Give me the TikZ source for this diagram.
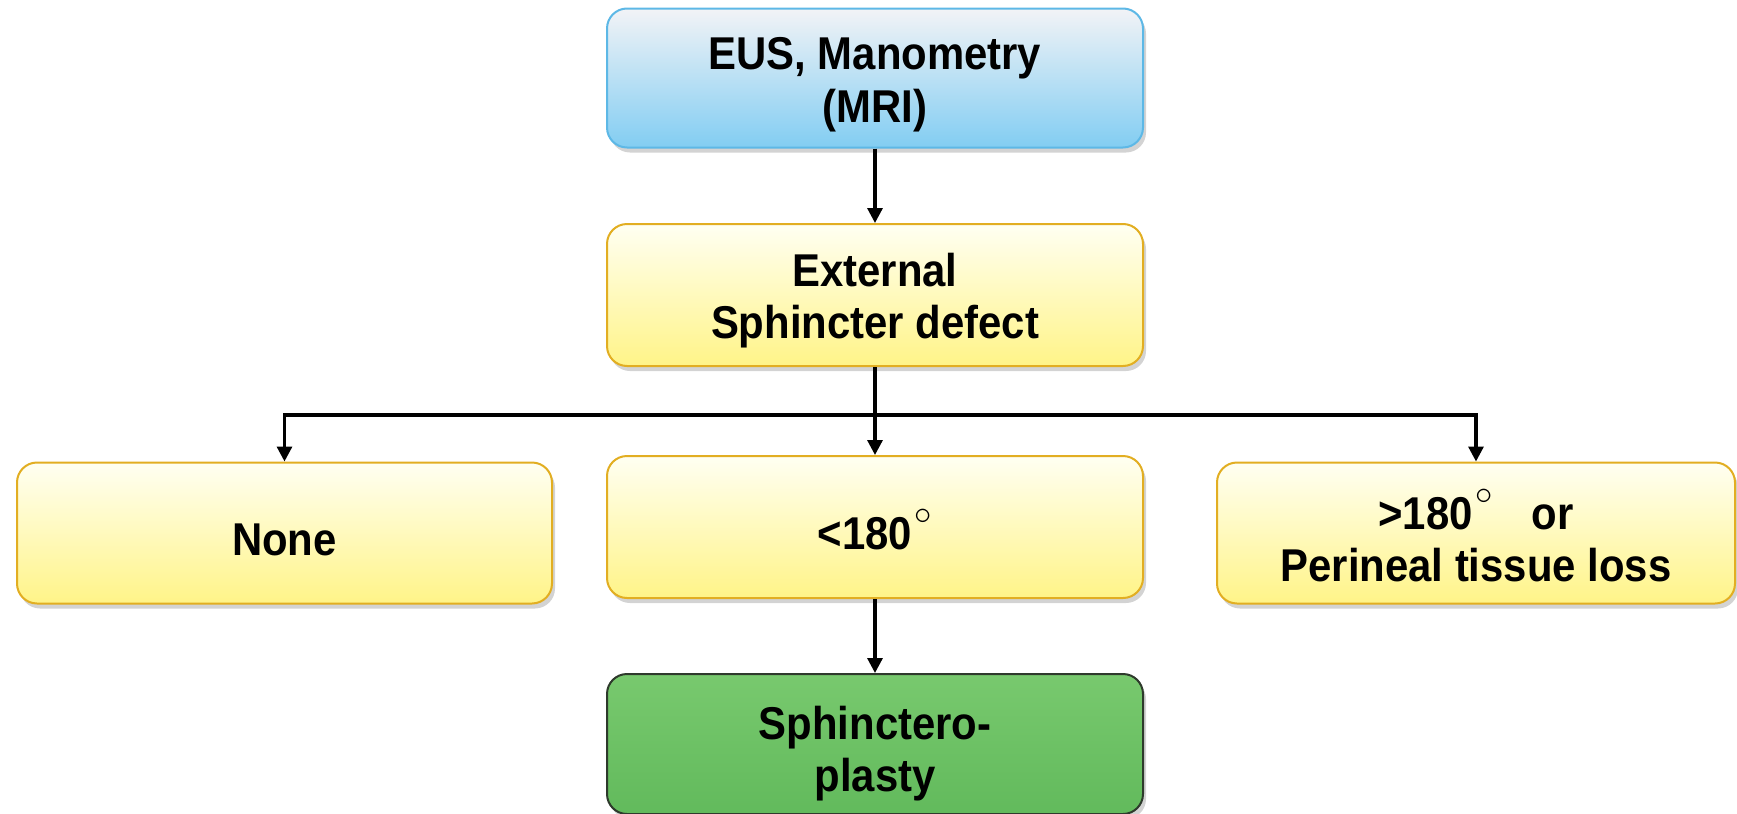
\documentclass[tikz,border=0pt]{standalone}
\usepackage{fontspec}
\setmainfont[FakeStretch=0.91]{Liberation Sans}
\usetikzlibrary{arrows.meta,shadows}
\definecolor{blueedge}{HTML}{5DB8E6}
\definecolor{bluetop}{HTML}{F2F3F6}
\definecolor{bluebot}{HTML}{82CDF2}
\definecolor{yeledge}{HTML}{E2AE22}
\definecolor{yeltop}{HTML}{FFFFF2}
\definecolor{yelbot}{HTML}{FFF488}
\definecolor{grnedge}{HTML}{2E3A2C}
\definecolor{grntop}{HTML}{78C96E}
\definecolor{grnbot}{HTML}{62BA5C}
% raised degree ring
\newcommand{\degmark}{\kern0.06em\raisebox{12.5pt}{\fontsize{16}{16}\selectfont$\circ$}}
% strut that lowers the text block slightly inside its box
\newcommand{\lowr}[1]{\rule{0pt}{#1}}
\tikzset{
  box/.style={rounded corners=10pt, line width=1pt, align=center,
    font=\fontsize{23}{26}\selectfont\bfseries, inner sep=0pt,
    drop shadow={shadow xshift=1.5pt, shadow yshift=-2.5pt, opacity=0.35}},
  bluebox/.style={box, draw=blueedge, top color=bluetop, bottom color=bluebot},
  yelbox/.style={box, draw=yeledge, top color=yeltop, bottom color=yelbot},
  grnbox/.style={box, draw=grnedge, top color=grntop, bottom color=grnbot},
  arr/.style={line width=1.6pt, -{Triangle[width=7.5pt,length=7.5pt]}}
}
\begin{document}
\begin{tikzpicture}[x=0.5pt,y=-0.5pt]
  \useasboundingbox (0,0) rectangle (1737,814);
  \node[bluebox, minimum width=268pt, minimum height=69.5pt] (top) at (875,78)
    {\lowr{22.5pt}EUS, Manometry\\[0.5pt](MRI)};
  \node[yelbox, minimum width=268pt, minimum height=71pt] (ext) at (875,295)
    {\lowr{22.5pt}External\\Sphincter defect};
  \node[yelbox, minimum width=267.5pt, minimum height=70.5pt] (none) at (284.5,533)
    {\lowr{22.5pt}None};
  \node[yelbox, minimum width=268pt, minimum height=71pt] (lt) at (875,527)
    {\lowr{22.5pt}<180\degmark};
  \node[yelbox, minimum width=259pt, minimum height=70.5pt] (gt) at (1476,533)
    {\lowr{22.5pt}>180\degmark\hspace{0.6em} or\\Perineal tissue loss};
  \node[grnbox, minimum width=268pt, minimum height=70pt] (sph) at (875,744)
    {\lowr{26pt}Sphinctero-\\plasty};
  \coordinate (br) at (875,415);
  \draw[arr] (top) -- (ext);
  \draw[arr] (ext) -- (lt);
  \draw[arr] (br) -| (none.north);
  \draw[arr] (br) -| (gt.north);
  \draw[arr] (lt) -- (sph);
\end{tikzpicture}
\end{document}
